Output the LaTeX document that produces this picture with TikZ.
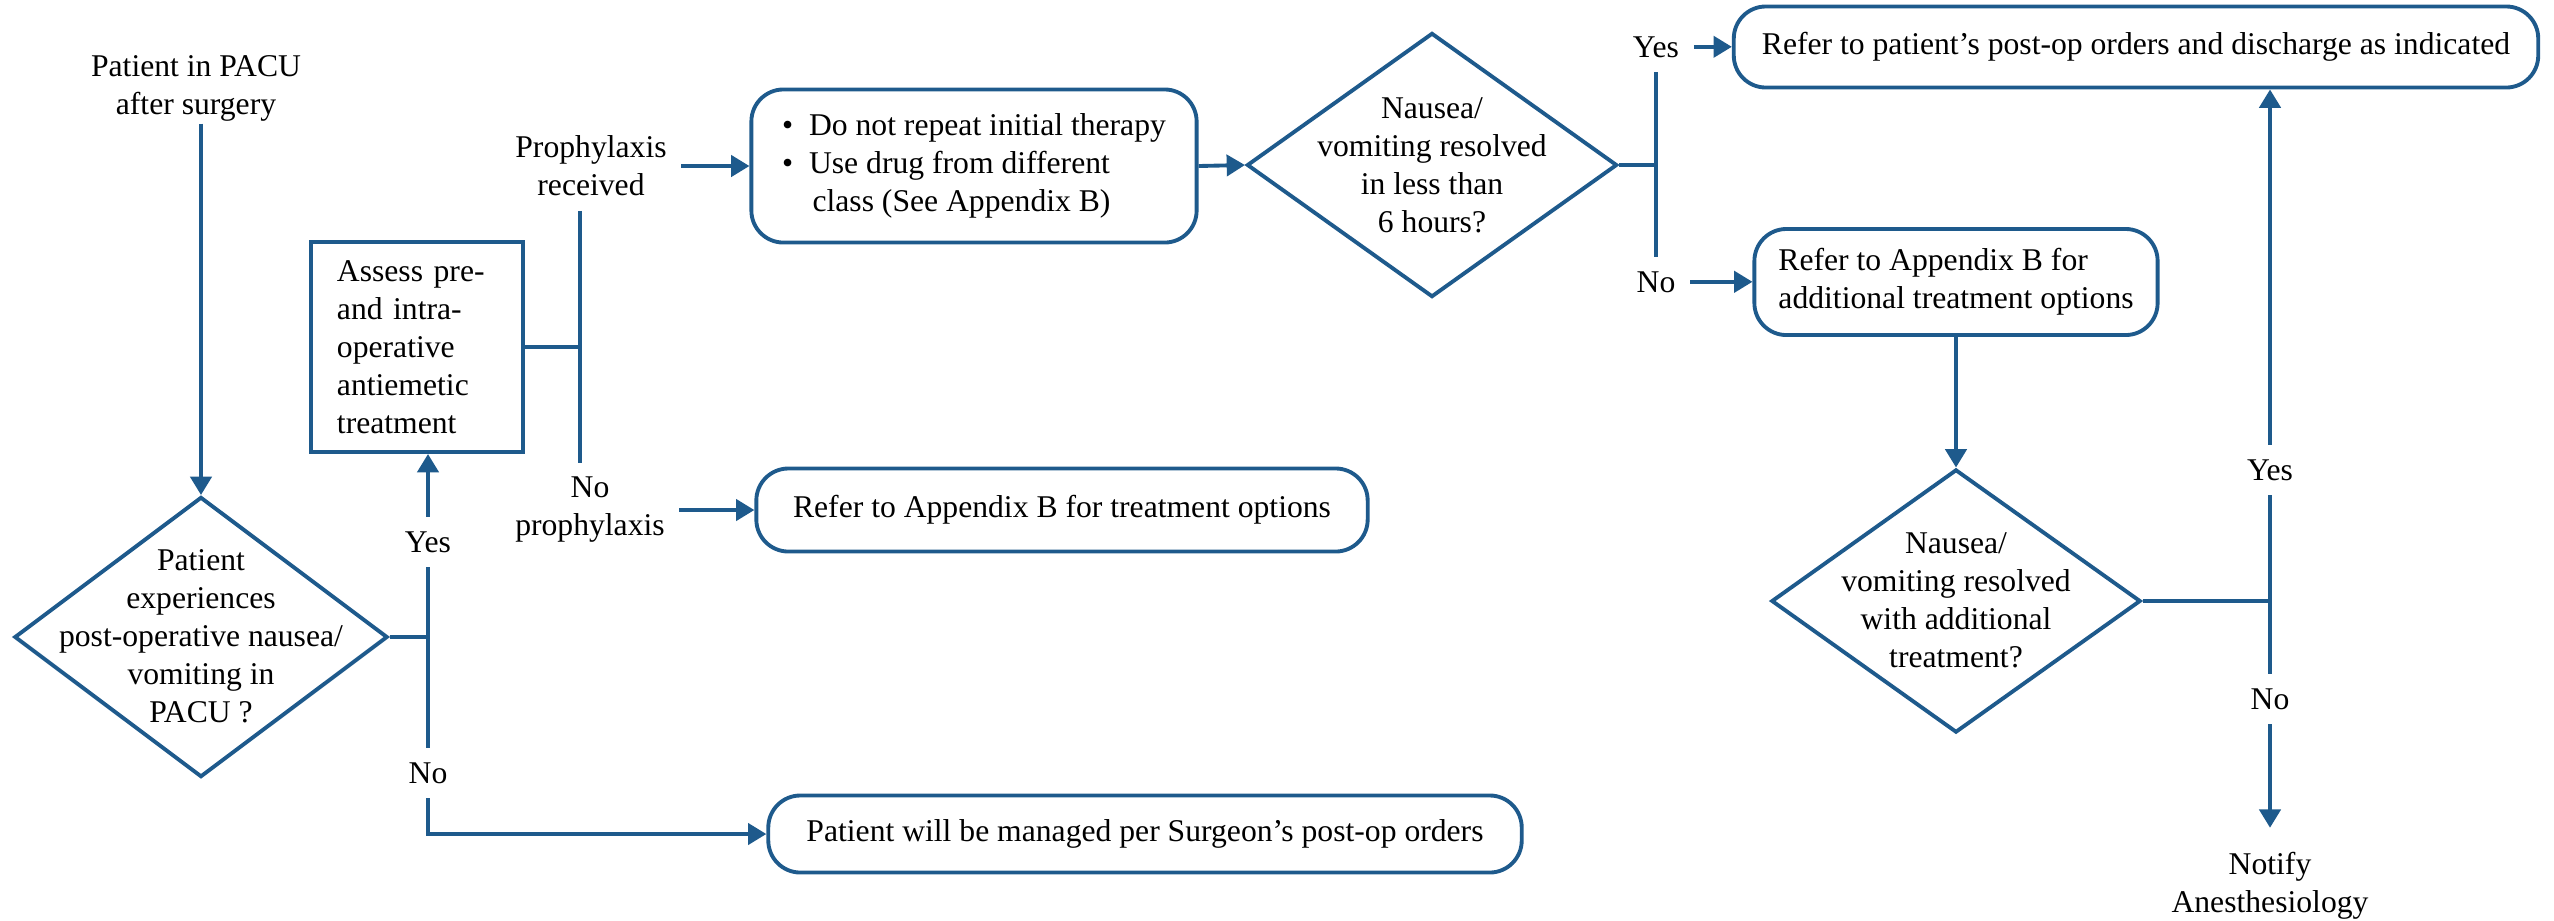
\documentclass[tikz,border=0pt]{standalone}
\usepackage{fontspec}
\setmainfont{Liberation Serif}
\usetikzlibrary{arrows.meta,shapes.geometric}
\definecolor{flowblue}{RGB}{30,90,140}

\begin{document}
\begin{tikzpicture}[x=0.01cm,y=-0.01cm,font=\fontsize{9}{10.8}\selectfont]
\tikzset{procbox/.style =
	{shape = rectangle,
		draw = flowblue,
		line width = 1.1pt,
		align = left,
		inner ysep = 0pt},
	roundbox/.style =
	{shape = rectangle,
		rounded corners = 0.32cm,
		draw = flowblue,
		line width = 1.1pt,
		align = left,
		inner sep = 0pt},
	decision/.style =
	{shape = diamond,
		draw = flowblue,
		line width = 1.1pt,
		inner sep = 0pt},
	lbl/.style = {align=center, inner sep=0.14cm},
	ln/.style = {draw=flowblue, line width=1.1pt},
	arr/.style = {ln, -{Triangle[width=6pt,length=5.2pt]}}}
\useasboundingbox (0,0) rectangle (2554,920);

% left part
\node[align=center, inner sep=0.02cm] (start) at (196,88) {Patient in PACU\\after surgery};
\node[decision, minimum width=3.73cm, minimum height=2.8cm] (q1) at (201,637) {};
\node[align=center] (q1txt) at (201,636) {Patient\\experiences\\post-operative nausea/\\vomiting in\\PACU ?};
\node[procbox, text width=1.6cm, inner xsep=0.26cm, minimum height=2.1cm] (assess) at (417,347)
	{Assess pre-\\and intra-\\operative\\antiemetic\\treatment};
\node[lbl, anchor=base] (yes1) at (428,552) {Yes};
\node[lbl, anchor=base] (no1) at (428,783) {No};
\node[lbl] (proph) at (591,166) {Prophylaxis\\received};
\node[lbl] (noproph) at (590,510) {No\\prophylaxis};
\coordinate (jq1) at (q1.east -| yes1.south);
\coordinate (j1) at (580,347);

% middle
\node[roundbox, minimum width=4.45cm, minimum height=1.53cm] (rep) at (974,166)
	{\textbullet\enspace Do not repeat initial therapy\\
	\textbullet\enspace Use drug from different\\
	\phantom{\textbullet\enspace}\hspace{1pt}class (See Appendix B)};
\node[roundbox, minimum width=6.11cm, minimum height=0.83cm] (refb) at (1062,510) {Refer to Appendix B for treatment options};
\node[roundbox, minimum width=7.53cm, minimum height=0.77cm] (mgmt) at (1145,834) {Patient will be managed per Surgeon’s post-op orders};
\node[decision, minimum width=3.7cm, minimum height=2.64cm] (q2) at (1432,165) {};
\node[align=center] (q2txt) at (1432,165) {Nausea/\\vomiting resolved\\in less than\\6 hours?};

% right part
\node[lbl, anchor=base] (yes2) at (1656,57) {Yes};
\node[lbl, anchor=base] (no2) at (1656,292) {No};
\coordinate (jq2) at (q2.east -| yes2.south);
\node[roundbox, minimum width=8.04cm, minimum height=0.81cm] (disc) at (2136,47)
	{Refer to patient’s post-op orders and discharge as indicated};
\node[roundbox, minimum width=4.03cm, minimum height=1.06cm] (box2) at (1956,282)
	{Refer to Appendix B for\\additional treatment options};
\node[decision, minimum width=3.69cm, minimum height=2.63cm] (q3) at (1956,601) {};
\node[align=center] (q3txt) at (1956,600) {Nausea/\\vomiting resolved\\with additional\\treatment?};
\node[lbl, anchor=base] (yes3) at (2270,480) {Yes};
\node[lbl, anchor=base] (no3) at (2270,709) {No};
\node[align=center, inner sep=0.24cm] (notify) at (2270,886) {Notify\\Anesthesiology};
\coordinate (jq3) at (q3.east -| yes3.south);

% connectors
\draw[arr] (start.south -| q1.north) -- (q1.north);
\draw[ln] (q1.east) -- (jq1) -- (yes1.south);
\draw[arr] (yes1.north) -- (yes1.north |- assess.south);
\draw[ln] (jq1) -- (no1.north);
\draw[arr] (no1.south) |- (mgmt.west);
\draw[ln] (assess.east) -- (j1);
\draw[ln] (proph.south -| j1) -- (noproph.north -| j1);
\draw[arr] (proph.east) -- (proph.east -| rep.west);
\draw[arr] (noproph.east) -- (noproph.east -| refb.west);
\draw[arr] (rep.east) -- (q2.west);
\draw[ln] (q2.east) -- (jq2);
\draw[ln] (yes2.south) -- (no2.north);
\draw[arr] (yes2.east) -- (yes2.east -| disc.west);
\draw[arr] (no2.east) -- (no2.east -| box2.west);
\draw[arr] (box2.south -| q3.north) -- (q3.north);
\draw[ln] (q3.east) -- (jq3);
\draw[ln] (yes3.south) -- (no3.north);
\draw[arr] (yes3.north) -- (yes3.north |- disc.south);
\draw[arr] (no3.south) -- (notify.north);
\end{tikzpicture}
\end{document}
